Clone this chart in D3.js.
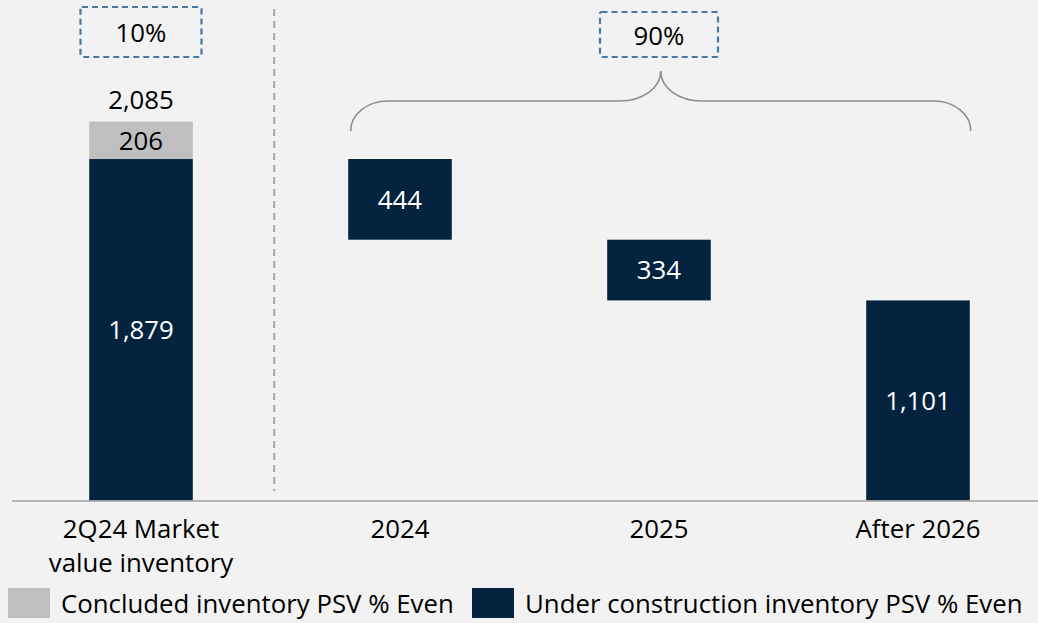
<!DOCTYPE html>
<html>
<head>
<meta charset="utf-8">
<script src="https://cdn.jsdelivr.net/npm/d3@7"></script>
<style>
  body { margin: 0; background: #f2f2f2; }
  svg { display: block; }
  text { font-family: "Open Sans", Lato, sans-serif; }
</style>
</head>
<body>
<svg id="chart" width="1038" height="623"></svg>
<script>
// Inventory breakdown (R$ million PSV % Even)
const categories = ["2Q24 Market value inventory", "2024", "2025", "After 2026"];
const categoryLines = [["2Q24 Market", "value inventory"], ["2024"], ["2025"], ["After 2026"]];
const underConstruction = [1879, 444, 334, 1101];
const concluded = [206, 0, 0, 0];
const shareLabels = ["10%", "90%"];
const legendLabels = ["Concluded inventory PSV % Even", "Under construction inventory PSV % Even"];

const colors = { concluded: "#bfbfbf", underConstruction: "#03233f" };
const fmt = d3.format(",");
const FS = 25.8;

const svg = d3.select("#chart");
const W = 1038, H = 623;
svg.append("rect").attr("width", W).attr("height", H).attr("fill", "#f2f2f2");

const x = d3.scaleBand()
  .domain(categories)
  .range([11.5, 1047.5])
  .paddingInner(0.6)
  .paddingOuter(0.3);

const y = d3.scaleLinear().domain([0, 2754]).range([500.5, 0]);

// Build waterfall segments: first column stacks from zero, the rest hang from the running level
const segments = [];
let level = 0;
categories.forEach((c, i) => {
  if (i === 0) {
    segments.push({ cat: c, y0: 0, y1: underConstruction[i], value: underConstruction[i], type: "underConstruction" });
    segments.push({ cat: c, y0: underConstruction[i], y1: underConstruction[i] + concluded[i], value: concluded[i], type: "concluded" });
    level = underConstruction[i];
  } else {
    segments.push({ cat: c, y0: level - underConstruction[i], y1: level, value: underConstruction[i], type: "underConstruction" });
    level -= underConstruction[i];
  }
});

// Separator between the starting column and the schedule
const sepX = x(categories[1]) - 74;
svg.append("line")
  .attr("x1", sepX).attr("x2", sepX)
  .attr("y1", 9).attr("y2", 491)
  .attr("stroke", "#a6a6a6").attr("stroke-width", 2)
  .attr("stroke-dasharray", "7,5");

// Bars
svg.append("g").selectAll("rect")
  .data(segments)
  .join("rect")
  .attr("x", d => x(d.cat))
  .attr("width", x.bandwidth())
  .attr("y", d => y(d.y1))
  .attr("height", d => y(d.y0) - y(d.y1))
  .attr("fill", d => colors[d.type]);

// Value labels inside bars
svg.append("g").selectAll("text")
  .data(segments)
  .join("text")
  .attr("x", d => x(d.cat) + x.bandwidth() / 2)
  .attr("y", d => (y(d.y0) + y(d.y1)) / 2)
  .attr("dy", "0.36em")
  .attr("text-anchor", "middle")
  .attr("font-size", FS)
  .attr("fill", d => d.type === "concluded" ? "#000" : "#fff")
  .text(d => fmt(d.value));

// Total above the first column
const total = underConstruction[0] + concluded[0];
svg.append("text")
  .attr("x", x(categories[0]) + x.bandwidth() / 2)
  .attr("y", y(total) - 22)
  .attr("dy", "0.36em")
  .attr("text-anchor", "middle")
  .attr("font-size", FS)
  .attr("fill", "#000")
  .text(fmt(total));

// X axis
const axis = svg.append("g")
  .attr("transform", `translate(0,${y(0)})`)
  .call(d3.axisBottom(x).tickSize(0).tickFormat(""));
axis.select(".domain").attr("stroke", "#a0a0a0").attr("stroke-width", 1.5);
axis.selectAll(".tick").each(function (d, i) {
  const t = d3.select(this).append("text")
    .attr("text-anchor", "middle")
    .attr("fill", "#000")
    .attr("font-size", FS)
    .attr("font-family", "'Open Sans', Lato, sans-serif");
  categoryLines[i].forEach((line, k) => {
    t.append("tspan").attr("x", 0).attr("y", 37 + k * 34).text(line);
  });
});

// Share boxes
const boxes = [
  { label: shareLabels[0], cx: x(categories[0]) + x.bandwidth() / 2, top: 7, w: 121, h: 50 },
  { label: shareLabels[1], cx: (x(categories[1]) + x(categories[3]) + x.bandwidth()) / 2, top: 12, w: 118, h: 45 }
];
const boxG = svg.append("g").selectAll("g").data(boxes).join("g");
boxG.append("rect")
  .attr("x", d => d.cx - d.w / 2)
  .attr("y", d => d.top)
  .attr("width", d => d.w)
  .attr("height", d => d.h)
  .attr("rx", 1.5)
  .attr("fill", "none")
  .attr("stroke", "#4a76a6")
  .attr("stroke-width", 2.2)
  .attr("stroke-dasharray", "6,4");
boxG.append("text")
  .attr("x", d => d.cx)
  .attr("y", d => d.top + d.h / 2 + 1)
  .attr("dy", "0.36em")
  .attr("text-anchor", "middle")
  .attr("font-size", FS)
  .attr("fill", "#000")
  .text(d => d.label);

// Curly brace spanning the schedule columns
const bx0 = x(categories[1]) + 2.5;
const bx1 = x(categories[3]) + x.bandwidth() + 1;
const tip = (bx0 + bx1) / 2;
const yEnd = 131, yMid = 101, yTip = 71;
const bracePath = d3.path();
bracePath.moveTo(bx0, yEnd);
bracePath.bezierCurveTo(bx0, yEnd - 17, bx0 + 17, yMid, bx0 + 37, yMid);
bracePath.lineTo(tip - 41, yMid);
bracePath.bezierCurveTo(tip - 18, yMid, tip, yMid - 13, tip, yTip);
bracePath.bezierCurveTo(tip, yMid - 13, tip + 18, yMid, tip + 41, yMid);
bracePath.lineTo(bx1 - 37, yMid);
bracePath.bezierCurveTo(bx1 - 17, yMid, bx1, yEnd - 17, bx1, yEnd);
svg.append("path")
  .attr("d", bracePath.toString())
  .attr("fill", "none")
  .attr("stroke", "#8e8e8e")
  .attr("stroke-width", 1.6);

// Legend
const legendItems = [
  { label: legendLabels[0], color: colors.concluded, x: 8 },
  { label: legendLabels[1], color: colors.underConstruction, x: 472 }
];
const lg = svg.append("g").selectAll("g").data(legendItems).join("g")
  .attr("transform", d => `translate(${d.x},588)`);
lg.append("rect").attr("width", 42).attr("height", 30).attr("fill", d => d.color);
lg.append("text")
  .attr("x", 53)
  .attr("y", 15.5)
  .attr("dy", "0.36em")
  .attr("font-size", FS)
  .attr("fill", "#000")
  .text(d => d.label);
</script>
</body>
</html>
